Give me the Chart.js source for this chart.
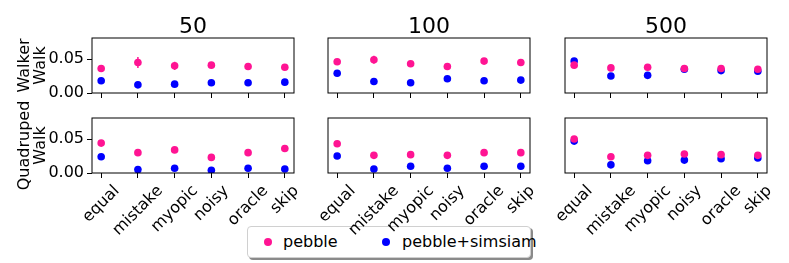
<!DOCTYPE html>
<html>
<head>
<meta charset="utf-8">
<script src="https://cdn.jsdelivr.net/npm/chart.js@4.4.1/dist/chart.umd.min.js"></script>
<style>
  body { margin: 0; background: #fff; width: 789px; height: 263px; position: relative; overflow: hidden; font-family: 'DejaVu Sans', sans-serif; }
  .panel { position: absolute; }
  #legend { position: absolute; left: 247px; top: 226px; width: 284px; height: 32px; box-sizing: border-box;
            border: 1px solid #d0d0d0; border-radius: 4px; background: #fff; box-shadow: 2px 2px 0 #8a8a8a; font-size: 16px; }
  #legend .dot { position: absolute; width: 8px; height: 8px; border-radius: 50%; top: 11px; }
  #legend .lbl { position: absolute; top: 6px; white-space: nowrap; line-height: 18px; }
</style>
</head>
<body>
<div id="legend"></div>
<script>
// categories and labels
const categories = ['equal', 'mistake', 'myopic', 'noisy', 'oracle', 'skip'];
const budgets = ['50', '100', '500'];
const tasks = [['Walker', 'Walk'], ['Quadruped', 'Walk']];
const seriesNames = ['pebble', 'pebble+simsiam'];
const seriesColors = ['#ff1493', '#0000ff'];
const yTickValues = [0, 0.05];

// walker walk
const walkerPebble50 = [0.036, 0.045, 0.040, 0.041, 0.039, 0.038];
const walkerSimsiam50 = [0.018, 0.012, 0.013, 0.015, 0.015, 0.016];
const walkerPebble100 = [0.046, 0.049, 0.043, 0.039, 0.047, 0.045];
const walkerSimsiam100 = [0.029, 0.017, 0.015, 0.021, 0.018, 0.019];
const walkerPebble500 = [0.041, 0.037, 0.038, 0.036, 0.036, 0.035];
const walkerSimsiam500 = [0.047, 0.025, 0.026, 0.035, 0.033, 0.032];

// quadruped walk
const quadPebble50 = [0.044, 0.030, 0.034, 0.023, 0.030, 0.036];
const quadSimsiam50 = [0.024, 0.005, 0.007, 0.004, 0.007, 0.006];
const quadPebble100 = [0.043, 0.026, 0.027, 0.026, 0.030, 0.030];
const quadSimsiam100 = [0.025, 0.006, 0.010, 0.007, 0.010, 0.010];
const quadPebble500 = [0.050, 0.024, 0.026, 0.028, 0.027, 0.026];
const quadSimsiam500 = [0.047, 0.012, 0.018, 0.019, 0.021, 0.022];

// std errors (only the visible ones)
const walkerPebble50Err = [0.001, 0.008, 0.006, 0.001, 0.001, 0.001];
const walkerPebble100Err = [0.001, 0.006, 0.001, 0.001, 0.001, 0.001];

const panels = [
    [[walkerPebble50, walkerSimsiam50, walkerPebble50Err], [walkerPebble100, walkerSimsiam100, walkerPebble100Err], [walkerPebble500, walkerSimsiam500, null]],
    [[quadPebble50, quadSimsiam50, null], [quadPebble100, quadSimsiam100, null], [quadPebble500, quadSimsiam500, null]]
];

Chart.defaults.font.family = "'DejaVu Sans', sans-serif";
Chart.defaults.color = '#000';
Chart.defaults.animation = false;

const plotLeft = [92.3, 328.3, 564.7];
const plotTop = [38.3, 118.3];
const plotW = 202, plotH = 55, axisW = 92, padRight = 8;

const framePlugin = {
    id: 'frame',
    afterDatasetsDraw(chart) {
        const a = chart.chartArea, ctx = chart.ctx;
        ctx.save();
        ctx.strokeStyle = '#000';
        ctx.lineWidth = 1;
        ctx.strokeRect(a.left, a.top, a.right - a.left, a.bottom - a.top);
        ctx.restore();
    }
};

const errorBarPlugin = {
    id: 'errorBars',
    afterDatasetsDraw(chart) {
        const ctx = chart.ctx, xs = chart.scales.x, ys = chart.scales.y;
        chart.data.datasets.forEach(ds => {
            if (!ds.errors) return;
            ctx.save();
            ctx.strokeStyle = ds.backgroundColor;
            ctx.lineWidth = 1.5;
            ds.data.forEach((p, i) => {
                const x = xs.getPixelForValue(p.x);
                ctx.beginPath();
                ctx.moveTo(x, ys.getPixelForValue(p.y - ds.errors[i]));
                ctx.lineTo(x, ys.getPixelForValue(p.y + ds.errors[i]));
                ctx.stroke();
            });
            ctx.restore();
        });
    }
};

// column title centred on the plot area
const panelTitlePlugin = {
    id: 'panelTitle',
    afterDraw(chart, args, opts) {
        if (!opts.text) return;
        const a = chart.chartArea, ctx = chart.ctx;
        ctx.save();
        ctx.font = "22px 'DejaVu Sans'";
        ctx.fillStyle = '#000';
        ctx.textAlign = 'center';
        ctx.textBaseline = 'alphabetic';
        ctx.fillText(opts.text, (a.left + a.right) / 2, a.top - 5.5);
        ctx.restore();
    }
};

// matplotlib style rotated labels, centred on the tick
const xLabelPlugin = {
    id: 'xLabels',
    afterDraw(chart, args, opts) {
        if (!opts.show) return;
        const ctx = chart.ctx, xs = chart.scales.x;
        const top = chart.chartArea.bottom + 9;
        ctx.save();
        ctx.font = "16px 'DejaVu Sans'";
        ctx.fillStyle = '#000';
        ctx.textAlign = 'center';
        ctx.textBaseline = 'middle';
        categories.forEach((c, i) => {
            const w = ctx.measureText(c).width;
            const half = (w + 18) * Math.SQRT1_2 / 2;
            ctx.save();
            ctx.translate(xs.getPixelForValue(i), top + half);
            ctx.rotate(-Math.PI / 4);
            ctx.fillText(c, 0, 0);
            ctx.restore();
        });
        ctx.restore();
    }
};

function makePanel(r, c) {
    const [pebble, simsiam, err] = panels[r][c];
    const topSpace = 40;
    const bottomSpace = r === 0 ? 10 : 70;
    const div = document.createElement('div');
    div.className = 'panel';
    div.style.left = (plotLeft[c] - axisW) + 'px';
    div.style.top = (plotTop[r] - topSpace) + 'px';
    div.style.width = (axisW + plotW + padRight) + 'px';
    div.style.height = (topSpace + plotH + bottomSpace) + 'px';
    const canvas = document.createElement('canvas');
    div.appendChild(canvas);
    document.body.appendChild(div);

    new Chart(canvas, {
        type: 'scatter',
        data: {
            datasets: [
                {
                    label: seriesNames[0],
                    data: pebble.map((v, i) => ({ x: i, y: v })),
                    errors: err,
                    backgroundColor: seriesColors[0],
                    borderColor: seriesColors[0],
                    pointRadius: 3.8,
                    borderWidth: 0
                },
                {
                    label: seriesNames[1],
                    data: simsiam.map((v, i) => ({ x: i, y: v })),
                    backgroundColor: seriesColors[1],
                    borderColor: seriesColors[1],
                    pointRadius: 3.8,
                    borderWidth: 0
                }
            ]
        },
        options: {
            responsive: true,
            maintainAspectRatio: false,
            layout: { padding: { top: topSpace, right: padRight, left: 0, bottom: 0 } },
            plugins: {
                legend: { display: false },
                tooltip: { enabled: false },
                title: { display: false },
                panelTitle: { text: r === 0 ? budgets[c] : null },
                xLabels: { show: r === 1 }
            },
            scales: {
                x: {
                    type: 'linear',
                    min: -0.25,
                    max: 5.25,
                    afterBuildTicks: s => { s.ticks = categories.map((_, i) => ({ value: i })); },
                    afterFit: s => { s.height = bottomSpace; s.paddingLeft = 0; s.paddingRight = 0; },
                    ticks: { display: false },
                    grid: { drawOnChartArea: false, drawTicks: true, tickLength: 5, tickColor: '#000' },
                    border: { display: false }
                },
                y: {
                    type: 'linear',
                    min: 0,
                    max: 0.081,
                    afterBuildTicks: s => { s.ticks = yTickValues.map(v => ({ value: v })); },
                    afterFit: s => { s.width = axisW; s.paddingTop = 0; s.paddingBottom = 0; },
                    ticks: {
                        display: c === 0,
                        padding: 3,
                        font: { size: 16 },
                        callback: v => v.toFixed(2)
                    },
                    grid: { drawOnChartArea: false, drawTicks: c === 0, tickLength: 5, tickColor: '#000' },
                    border: { display: false },
                    title: {
                        display: c === 0,
                        text: tasks[r],
                        font: { size: 16, lineHeight: 1 },
                        color: '#000',
                        padding: { top: 16.7, bottom: 0 }
                    }
                }
            }
        },
        plugins: [errorBarPlugin, framePlugin, panelTitlePlugin, xLabelPlugin]
    });
}

for (let r = 0; r < 2; r++) {
    for (let c = 0; c < 3; c++) makePanel(r, c);
}

// legend
const legend = document.getElementById('legend');
const dotX = [16, 134];
const textX = [35, 154];
seriesNames.forEach((name, i) => {
    const dot = document.createElement('span');
    dot.className = 'dot';
    dot.style.left = dotX[i] + 'px';
    dot.style.background = seriesColors[i];
    legend.appendChild(dot);
    const lbl = document.createElement('span');
    lbl.className = 'lbl';
    lbl.style.left = textX[i] + 'px';
    lbl.textContent = name;
    legend.appendChild(lbl);
});
</script>
</body>
</html>
